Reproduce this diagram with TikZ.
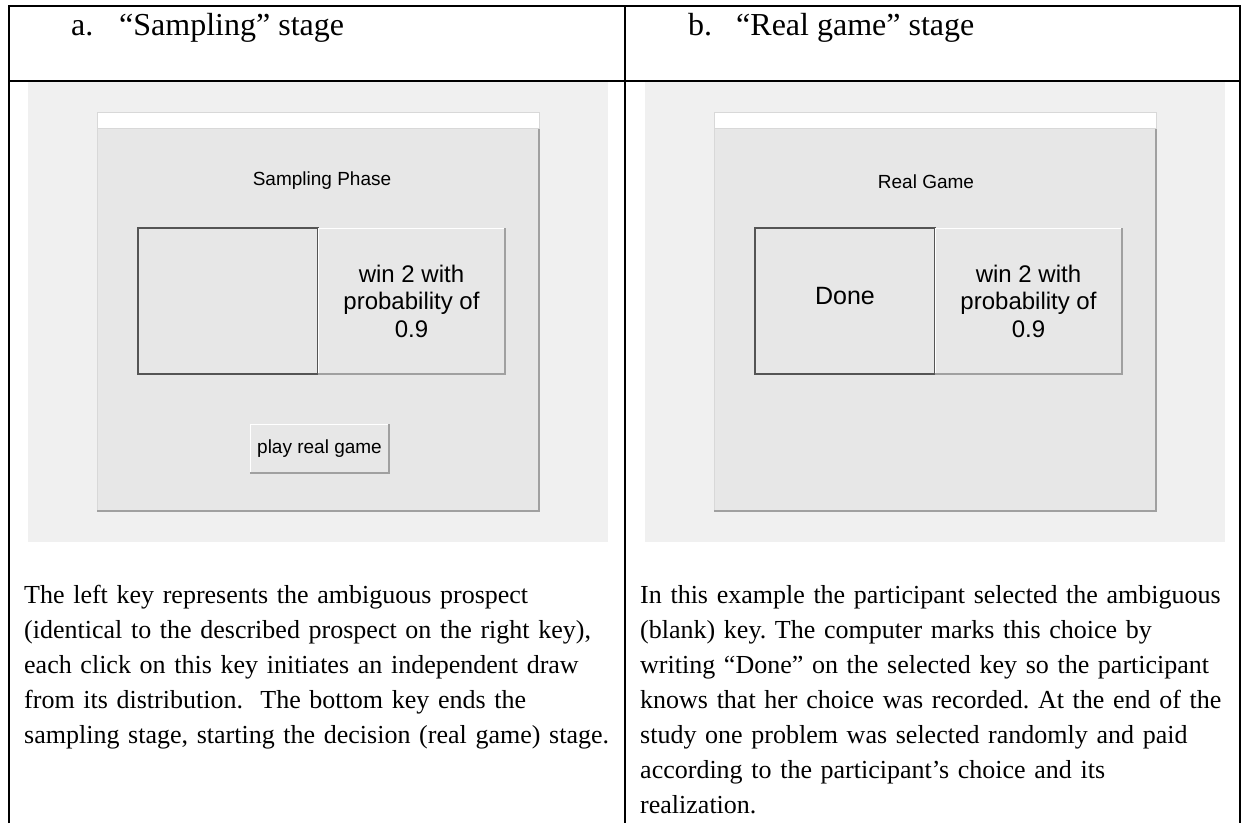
\documentclass[tikz,border=0pt]{standalone}
\usepackage{fontspec}
\setmainfont{Liberation Serif}
\setsansfont{Liberation Sans}
\usepackage{xcolor}
\usetikzlibrary{positioning}
\definecolor{bggray}{HTML}{F0F0F0}
\definecolor{wingray}{HTML}{E7E7E7}
\definecolor{lightedge}{HTML}{D8D8D8}
\definecolor{edgegray}{HTML}{A0A0A0}
\definecolor{darkedge}{HTML}{555555}

\begin{document}
\frenchspacing
\begin{tikzpicture}[x=1pt,y=-1pt,
  frame/.style={line width=2pt},
  shot/.style={fill=bggray, anchor=north west, inner sep=0, outer sep=0, minimum width=580, minimum height=460},
  win/.style={fill=wingray, draw=lightedge, anchor=north west, inner sep=0, outer sep=0, minimum width=442, minimum height=399},
  bar/.style={fill=white, draw=lightedge, anchor=north west, inner sep=0, outer sep=0, minimum width=442, minimum height=16},
  key/.style={fill=wingray, draw=white, inner sep=0, outer sep=0, minimum height=146, align=center, font=\sffamily\fontsize{24}{27.5}\selectfont},
  keydown/.style={key, draw=darkedge, line width=1.5pt, anchor=north west, minimum width=180},
  shade/.style={edgegray, line width=1.5pt},
  heading/.style={anchor=base, font=\sffamily\fontsize{19}{22}\selectfont},
  title/.style={anchor=base west, inner sep=0, font=\fontsize{32}{38}\selectfont},
  caption/.style={anchor=base west, inner sep=0, text width=600, align=left, font=\fontsize{26}{35}\selectfont}]
\useasboundingbox (0,0) rectangle (1246,823);

% table
\draw[frame] (9,823) -- (9,6) -- (1240,6) -- (1240,823);
\draw[frame] (9,81) -- (1240,81);
\draw[frame] (625,6) -- (625,823);

% a. sampling stage
\node[title] (na) at (71,35) {a.};
\node[title] (ta) at (119,35) {“Sampling” stage};
\node[shot] (sa) at (28,82) {};
\node[win] (wa) at (97,112) {};
\draw[shade] (wa.north east) -- (wa.south east) -- (wa.south west);
\node[bar] (ba) at (97,112) {};
\node[heading] (ha) at (322,185) {Sampling Phase};
\node[keydown] (la) at (138,228) {};
\node[key, minimum width=187, right=0pt of la] (ra) {win 2 with\\probability of\\0.9};
\draw[shade] (ra.north east) -- (ra.south east) -- (ra.south west);
\node[key, minimum width=139, minimum height=49, font=\sffamily\fontsize{19}{22}\selectfont] (pa) at (319.5,448.5) {play real game};
\draw[shade] (pa.north east) -- (pa.south east) -- (pa.south west);
\node[caption] (ca) at (24,603) {The left key represents the ambiguous prospect\\
(identical to the described prospect on the right key),\\
each click on this key initiates an independent draw\\
from its distribution.\ \ The bottom key ends the\\
sampling stage, starting the decision (real game) stage.};

% b. real game stage
\node[title] (nb) at (688,35) {b.};
\node[title] (tb) at (736,35) {“Real game” stage};
\node[shot] (sb) at (645,82) {};
\node[win] (wb) at (714,112) {};
\draw[shade] (wb.north east) -- (wb.south east) -- (wb.south west);
\node[bar] (bb) at (714,112) {};
\node[heading] (hb) at (926,188) {Real Game};
\node[keydown, font=\sffamily\fontsize{25}{28}\selectfont, text depth=10pt] (lb) at (755,228) {Done};
\node[key, minimum width=187, right=0pt of lb] (rb) {win 2 with\\probability of\\0.9};
\draw[shade] (rb.north east) -- (rb.south east) -- (rb.south west);
\node[caption] (cb) at (640,603) {In this example the participant selected the ambiguous\\
(blank) key. The computer marks this choice by\\
writing “Done” on the selected key so the participant\\
knows that her choice was recorded. At the end of the\\
study one problem was selected randomly and paid\\
according to the participant’s choice and its\\
realization.};
\end{tikzpicture}
\end{document}
